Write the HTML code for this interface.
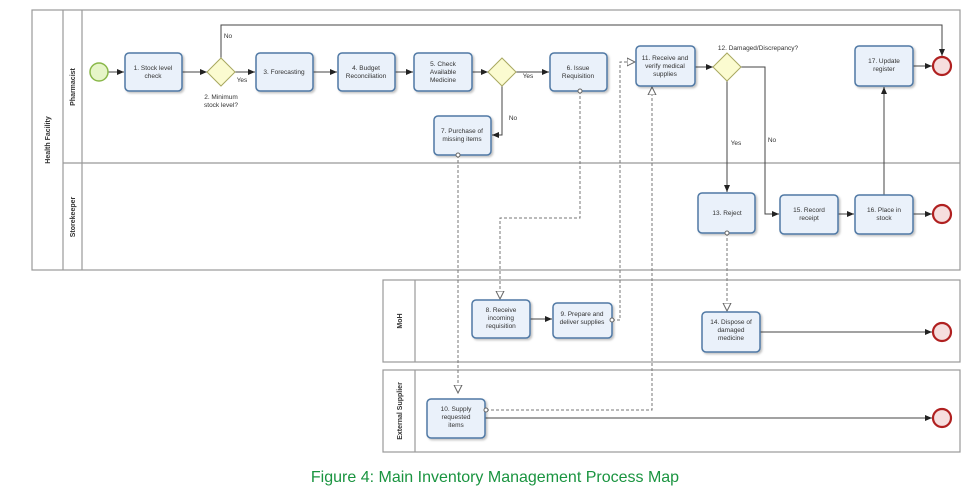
<!DOCTYPE html>
<html><head><meta charset="utf-8"><style>
body{margin:0;background:#fff;width:980px;height:490px;overflow:hidden}
svg{display:block}
text{font-family:"Liberation Sans",sans-serif;fill:#333}
.t{font-size:6.5px;text-anchor:middle}
.lb{font-size:7px;font-weight:bold;text-anchor:middle}
.task{fill:#eaf1fa;stroke:#4f78a4;stroke-width:1.5;filter:url(#s)}
.f{fill:none;stroke:#444;stroke-width:1}
.m{fill:none;stroke:#777;stroke-width:1;stroke-dasharray:3,2}
.gw{fill:#fbfbd0;stroke:#a8a860;stroke-width:1}
.end{fill:#f6dede;stroke:#b02020;stroke-width:2.2}
.pool{fill:none;stroke:#999;stroke-width:1.2}
.mc{fill:#fff;stroke:#666;stroke-width:1}
</style></head><body>
<svg width="980" height="490" viewBox="0 0 980 490">
<defs>
<filter id="s" x="-10%" y="-10%" width="130%" height="130%"><feDropShadow dx="1.5" dy="1.5" stdDeviation="1" flood-color="#000" flood-opacity="0.25"/></filter>
<marker id="a" markerWidth="8" markerHeight="8" refX="7" refY="4" orient="auto" markerUnits="userSpaceOnUse"><path d="M0,1 L7,4 L0,7z" fill="#222"/></marker>
<marker id="o" markerWidth="10" markerHeight="10" refX="8" refY="5" orient="auto" markerUnits="userSpaceOnUse"><path d="M0,1 L8,5 L0,9z" fill="#fff" stroke="#666"/></marker>
</defs>
<rect class="pool" x="32" y="10" width="928" height="260"/>
<line class="pool" x1="63" y1="10" x2="63" y2="270"/>
<line class="pool" x1="82" y1="10" x2="82" y2="270"/>
<line class="pool" x1="63" y1="163" x2="960" y2="163"/>
<rect class="pool" x="383" y="280" width="577" height="82"/>
<line class="pool" x1="415" y1="280" x2="415" y2="362"/>
<rect class="pool" x="383" y="370" width="577" height="82"/>
<line class="pool" x1="415" y1="370" x2="415" y2="452"/>
<text class="lb" transform="translate(50,140) rotate(-90)">Health Facility</text>
<text class="lb" transform="translate(75,87) rotate(-90)">Pharmacist</text>
<text class="lb" transform="translate(75,217) rotate(-90)">Storekeeper</text>
<text class="lb" transform="translate(402,321) rotate(-90)">MoH</text>
<text class="lb" transform="translate(402,411) rotate(-90)">External Supplier</text>

<path class="m" d="M458,155 V393" marker-end="url(#o)"/>
<path class="m" d="M580,91 V218 H500 V299" marker-end="url(#o)"/>
<path class="m" d="M612,320 H620 V62 H635" marker-end="url(#o)"/>
<path class="m" d="M486,410 H652 V87" marker-end="url(#o)"/>
<path class="m" d="M727,233 V311" marker-end="url(#o)"/>

<path class="f" d="M108,72 H124" marker-end="url(#a)"/>
<path class="f" d="M182,72 H207" marker-end="url(#a)"/>
<path class="f" d="M235,72 H255" marker-end="url(#a)"/>
<path class="f" d="M313,72 H337" marker-end="url(#a)"/>
<path class="f" d="M395,72 H413" marker-end="url(#a)"/>
<path class="f" d="M472,72 H488" marker-end="url(#a)"/>
<path class="f" d="M516,72 H549" marker-end="url(#a)"/>
<path class="f" d="M502,86 V135 H492" marker-end="url(#a)"/>
<path class="f" d="M221,58 V25 H942 V56" marker-end="url(#a)"/>
<path class="f" d="M695,67 H713" marker-end="url(#a)"/>
<path class="f" d="M741,67 H765 V214 H779" marker-end="url(#a)"/>
<path class="f" d="M727,81 V192" marker-end="url(#a)"/>
<path class="f" d="M838,214 H854" marker-end="url(#a)"/>
<path class="f" d="M913,214 H932" marker-end="url(#a)"/>
<path class="f" d="M884,195 V87" marker-end="url(#a)"/>
<path class="f" d="M913,66 H932" marker-end="url(#a)"/>
<path class="f" d="M530,319 H552" marker-end="url(#a)"/>
<path class="f" d="M760,332 H932" marker-end="url(#a)"/>
<path class="f" d="M485,418 H932" marker-end="url(#a)"/>

<text class="t" x="228" y="38">No</text>
<text class="t" x="242" y="82">Yes</text>
<text class="t" x="528" y="78">Yes</text>
<text class="t" x="513" y="120">No</text>
<text class="t" x="736" y="145">Yes</text>
<text class="t" x="772" y="142">No</text>
<text class="t" x="221" y="99">2. Minimum</text>
<text class="t" x="221" y="107">stock level?</text>
<text class="t" x="758" y="50">12. Damaged/Discrepancy?</text>

<circle cx="99" cy="72" r="9" fill="#e6f5c8" stroke="#8ab84a" stroke-width="1.5"/>
<circle class="end" cx="942" cy="66" r="9"/>
<circle class="end" cx="942" cy="214" r="9"/>
<circle class="end" cx="942" cy="332" r="9"/>
<circle class="end" cx="942" cy="418" r="9"/>

<path class="gw" d="M221,58 L235,72 L221,86 L207,72z"/>
<path class="gw" d="M502,58 L516,72 L502,86 L488,72z"/>
<path class="gw" d="M727,53 L741,67 L727,81 L713,67z"/>

<rect class="task" x="125" y="53" width="57" height="38" rx="4"/>
<text class="t" x="153" y="70">1. Stock level</text><text class="t" x="153" y="78">check</text>
<rect class="task" x="256" y="53" width="57" height="38" rx="4"/>
<text class="t" x="284" y="74">3. Forecasting</text>
<rect class="task" x="338" y="53" width="57" height="38" rx="4"/>
<text class="t" x="366" y="70">4. Budget</text><text class="t" x="366" y="78">Reconciliation</text>
<rect class="task" x="414" y="53" width="58" height="38" rx="4"/>
<text class="t" x="443" y="66">5. Check</text><text class="t" x="443" y="74">Available</text><text class="t" x="443" y="82">Medicine</text>
<rect class="task" x="550" y="53" width="57" height="38" rx="4"/>
<text class="t" x="578" y="70">6. Issue</text><text class="t" x="578" y="78">Requisition</text>
<rect class="task" x="434" y="116" width="57" height="39" rx="4"/>
<text class="t" x="462" y="133">7. Purchase of</text><text class="t" x="462" y="141">missing items</text>
<rect class="task" x="636" y="46" width="59" height="40" rx="4"/>
<text class="t" x="665" y="60">11. Receive and</text><text class="t" x="665" y="68">verify medical</text><text class="t" x="665" y="76">supplies</text>
<rect class="task" x="855" y="46" width="58" height="40" rx="4"/>
<text class="t" x="884" y="63">17. Update</text><text class="t" x="884" y="71">register</text>
<rect class="task" x="698" y="193" width="57" height="40" rx="4"/>
<text class="t" x="727" y="215">13. Reject</text>
<rect class="task" x="780" y="195" width="58" height="39" rx="4"/>
<text class="t" x="809" y="212">15. Record</text><text class="t" x="809" y="220">receipt</text>
<rect class="task" x="855" y="195" width="58" height="39" rx="4"/>
<text class="t" x="884" y="212">16. Place in</text><text class="t" x="884" y="220">stock</text>
<rect class="task" x="472" y="300" width="58" height="38" rx="4"/>
<text class="t" x="501" y="312">8. Receive</text><text class="t" x="501" y="320">incoming</text><text class="t" x="501" y="328">requisition</text>
<rect class="task" x="553" y="303" width="59" height="35" rx="4"/>
<text class="t" x="582" y="316">9. Prepare and</text><text class="t" x="582" y="324">deliver supplies</text>
<rect class="task" x="702" y="312" width="58" height="40" rx="4"/>
<text class="t" x="731" y="324">14. Dispose of</text><text class="t" x="731" y="332">damaged</text><text class="t" x="731" y="340">medicine</text>
<rect class="task" x="427" y="399" width="58" height="39" rx="4"/>
<text class="t" x="456" y="411">10. Supply</text><text class="t" x="456" y="419">requested</text><text class="t" x="456" y="427">items</text>

<circle class="mc" cx="458" cy="155" r="2"/>
<circle class="mc" cx="580" cy="91" r="2"/>
<circle class="mc" cx="612" cy="320" r="2"/>
<circle class="mc" cx="486" cy="410" r="2"/>
<circle class="mc" cx="727" cy="233" r="2"/>

<text x="495" y="482" style="font-size:16px;text-anchor:middle;fill:#1a9440">Figure 4: Main Inventory Management Process Map</text>
</svg>
</body></html>
